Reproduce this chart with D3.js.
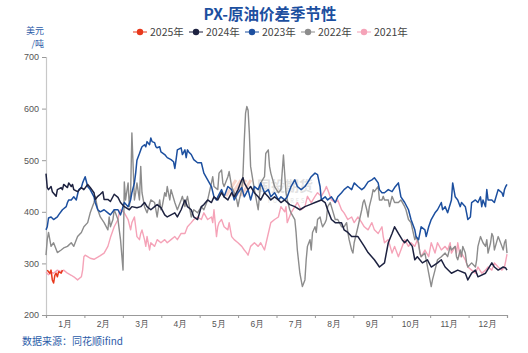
<!DOCTYPE html>
<html>
<head>
<meta charset="utf-8">
<script src="https://cdn.jsdelivr.net/npm/d3@7"></script>
<style>
  html, body { margin: 0; padding: 0; background: #fff; }
  svg { display: block; font-family: "Noto Sans CJK SC", "Noto Sans", sans-serif; }
</style>
</head>
<body>
<div id="chart"></div>
<script>
// month labels on the x axis
const months = ['1月', '2月', '3月', '4月', '5月', '6月', '7月', '8月', '9月', '10月', '11月', '12月'];
const yTicks = [200, 300, 400, 500, 600, 700];

// [day of year, USD/t]
const s2025 = [[1,287],[2,284],[3,281],[4,287],[5,268],[6,262],[7,277],[8,281],[9,274],[10,284],[12,281],[13,287]];

const s2024 = [[0,474],[1,447],[2,443],[4,449],[5,439],[8,430],[9,443],[12,447],[13,443],[14,453],[17,447],[18,456],[20,449],
  [21,453],[22,443],[25,439],[28,447],[30,443],[33,453],[35,447],[38,437],[39,424],[41,430],[43,434],[45,439],[46,424],
  [49,424],[51,420],[54,434],[57,428],[59,418],[62,410],[66,404],[68,410],[72,408],[75,410],[78,418],[80,410],[83,404],
  [86,410],[88,414],[91,408],[94,394],[96,390],[99,394],[102,398],[104,390],[107,404],[110,423],[112,410],[115,404],
  [117,390],[120,385],[123,410],[125,414],[128,423],[131,418],[133,429],[136,423],[139,437],[141,429],[144,423],[147,437],
  [149,429],[152,443],[155,462],[156,466],[157,456],[160,443],[162,449],[165,437],[168,429],[170,423],[173,437],[176,429],
  [178,423],[181,429],[184,423],[186,418],[189,423],[193,414],[197,410],[201,404],[205,410],[209,414],[213,418],[218,423],
  [221,418],[223,404],[226,385],[229,379],[234,379],[236,365],[239,360],[242,352],[247,352],[252,333],[255,321],[260,307],
  [264,293],[268,301],[271,340],[274,358],[276,371],[279,358],[282,346],[284,340],[286,346],[290,333],[292,307],[294,313],
  [298,301],[302,307],[305,293],[310,301],[313,307],[316,293],[321,281],[326,287],[332,281],[334,268],[337,281],[340,287],
  [342,274],[348,281],[353,301],[355,293],[358,287],[362,293],[364,291],[365,287]];

const s2023 = [[0,365],[1,371],[2,388],[4,390],[6,385],[9,390],[10,394],[13,404],[16,410],[17,418],[18,423],[20,423],[22,429],
  [24,423],[25,434],[26,443],[28,447],[29,456],[30,462],[31,468],[33,449],[35,443],[38,429],[39,418],[41,404],[43,400],
  [46,404],[49,398],[51,394],[54,404],[57,404],[59,394],[62,418],[65,410],[67,423],[68,437],[70,456],[71,475],[72,500],
  [74,513],[75,520],[76,526],[78,530],[79,526],[80,536],[82,530],[83,543],[84,536],[86,534],[87,526],[88,524],[90,526],
  [91,516],[94,511],[96,505],[99,501],[101,497],[102,484],[103,501],[104,520],[107,524],[108,511],[110,520],[111,505],
  [112,520],[113,516],[115,511],[117,501],[120,495],[123,495],[125,475],[128,462],[131,449],[133,429],[135,423],[136,429],
  [139,443],[141,429],[144,449],[147,443],[149,423],[152,437],[155,447],[157,429],[160,443],[162,423],[165,449],[168,443],
  [170,456],[173,437],[176,443],[178,429],[181,437],[184,423],[186,429],[189,423],[191,429],[194,449],[197,462],[199,449],
  [202,443],[205,449],[207,456],[210,468],[213,475],[215,472],[217,449],[218,423],[221,429],[223,423],[226,429],[229,418],
  [231,429],[234,437],[236,443],[239,449],[242,443],[244,456],[247,449],[250,443],[252,447],[255,458],[258,462],[260,466],
  [263,456],[264,443],[266,437],[268,437],[271,443],[274,439],[276,447],[279,456],[281,429],[284,418],[287,404],[289,385],
  [292,365],[293,352],[295,346],[296,358],[297,371],[300,365],[301,352],[303,371],[305,385],[308,398],[310,404],[313,418],
  [314,404],[316,410],[318,398],[321,423],[322,456],[324,429],[326,423],[328,410],[329,418],[332,410],[333,398],[334,385],
  [336,390],[337,418],[340,423],[342,418],[344,429],[345,410],[346,423],[348,410],[349,443],[350,423],[353,423],[355,418],
  [358,443],[361,437],[362,430],[363,443],[364,449],[365,453]];

const s2022 = [[0,316],[1,346],[2,360],[4,333],[6,340],[9,321],[12,326],[14,330],[17,333],[20,340],[22,333],[25,352],[28,360],
  [30,371],[33,379],[35,398],[38,418],[39,430],[41,404],[43,390],[46,379],[49,365],[50,390],[51,371],[53,385],[54,404],
  [57,385],[58,365],[59,346],[61,287],[62,458],[63,423],[65,456],[66,410],[67,437],[68,553],[69,488],[70,423],[71,437],
  [72,456],[74,423],[75,488],[76,437],[78,410],[80,398],[83,423],[86,418],[88,390],[90,423],[91,404],[92,410],[94,437],
  [95,430],[96,449],[98,423],[99,443],[102,418],[104,404],[107,423],[108,430],[110,410],[112,430],[115,390],[117,404],
  [120,398],[123,410],[125,404],[128,423],[131,456],[132,468],[133,449],[136,443],[137,475],[139,481],[140,456],[141,449],
  [144,468],[145,478],[147,449],[149,437],[151,423],[152,410],[153,423],[155,443],[156,475],[157,539],[158,591],[159,604],
  [160,597],[161,553],[162,488],[165,443],[168,404],[169,430],[170,456],[173,468],[174,513],[176,520],[177,488],[178,475],
  [181,449],[184,437],[186,443],[188,510],[190,437],[191,423],[193,404],[194,398],[197,385],[198,360],[199,326],[201,281],
  [202,268],[203,255],[205,268],[206,307],[207,333],[209,346],[210,326],[211,360],[213,371],[214,360],[215,385],[217,390],
  [218,379],[219,371],[221,379],[222,385],[223,410],[225,418],[226,410],[229,385],[231,385],[234,371],[236,371],[238,379],
  [239,360],[240,346],[242,326],[243,320],[244,340],[247,371],[250,404],[251,418],[252,423],[254,404],[255,390],[256,410],
  [258,430],[259,443],[260,439],[263,449],[264,423],[266,423],[267,430],[268,423],[271,423],[272,410],[274,430],[276,418],
  [279,418],[281,423],[284,410],[285,404],[287,385],[289,379],[292,346],[293,352],[295,340],[296,320],[297,313],[300,320],
  [303,281],[305,255],[306,268],[308,287],[310,307],[313,313],[316,320],[318,313],[320,333],[321,326],[324,333],[325,313],
  [326,307],[328,326],[329,313],[330,333],[332,320],[333,301],[334,293],[337,301],[340,293],[341,307],[342,333],[344,352],
  [345,346],[346,340],[348,333],[349,346],[350,320],[352,340],[353,358],[354,352],[355,326],[358,352],[359,346],[361,333],
  [362,326],[363,340],[364,346],[365,320]];

const s2021 = [[0,283],[2,278],[5,282],[6,281],[9,287],[12,284],[14,287],[17,281],[20,277],[22,274],[25,268],[28,274],[29,287],
  [30,313],[31,316],[33,313],[35,310],[38,308],[41,312],[43,315],[46,320],[49,333],[51,350],[54,371],[57,385],[58,398],
  [59,404],[62,398],[65,385],[67,365],[68,379],[70,390],[71,371],[72,352],[74,346],[75,358],[76,365],[78,346],[79,333],
  [80,352],[82,326],[83,340],[86,333],[88,346],[91,340],[94,346],[96,340],[99,346],[102,352],[104,346],[107,358],[110,358],
  [112,371],[115,379],[117,385],[120,390],[123,385],[125,398],[128,385],[131,390],[132,379],[133,404],[135,352],[136,371],
  [137,379],[139,385],[141,371],[144,365],[145,379],[147,352],[149,346],[152,340],[155,333],[157,326],[159,320],[160,316],
  [162,333],[165,340],[168,333],[170,340],[173,326],[176,358],[178,379],[181,385],[184,390],[186,410],[189,400],[190,410],
  [191,379],[194,398],[197,410],[199,418],[202,404],[205,410],[207,430],[210,418],[213,430],[215,437],[218,430],[221,443],
  [222,449],[223,443],[226,423],[229,418],[231,423],[234,404],[236,398],[239,385],[242,390],[244,379],[247,390],[250,379],
  [252,371],[255,365],[258,379],[260,365],[263,358],[266,371],[267,352],[268,340],[271,346],[274,320],[276,333],[279,313],
  [281,326],[284,346],[287,333],[289,340],[292,333],[294,346],[297,313],[300,326],[303,313],[305,340],[308,320],[310,340],
  [313,326],[316,333],[318,326],[320,340],[321,320],[324,333],[325,320],[326,340],[328,313],[329,320],[332,307],[334,293],
  [337,287],[340,281],[342,293],[345,281],[348,287],[350,293],[353,287],[355,301],[358,293],[361,287],[363,293],[364,305],
  [365,318]];

const seriesNames = ['2025年', '2024年', '2023年', '2022年', '2021年'];
const seriesData = [s2025, s2024, s2023, s2022, s2021];
const colors = ['#e8381c', '#1d2240', '#1c4f9f', '#8c8c8c', '#f5a3b8'];

const W = 528, H = 353;
const svg = d3.select('#chart').append('svg').attr('width', W).attr('height', H);

const x = d3.scaleLinear().domain([0, 365]).range([46, 507]);
const y = d3.scaleLinear().domain([200, 700]).range([315, 57]);
const band = d3.scaleBand().domain(months).range([46, 507]);

// title
svg.append('text').attr('x', 270).attr('y', 20).attr('text-anchor', 'middle')
  .attr('font-size', 15.5).attr('font-weight', 'bold').attr('fill', '#1c4f9f')
  .text('PX-原油价差季节性');

// legend
const legend = svg.append('g');
seriesNames.forEach((name, i) => {
  const cx = 140 + i * 56;
  legend.append('line').attr('x1', cx - 7).attr('x2', cx + 7).attr('y1', 32).attr('y2', 32)
    .attr('stroke', colors[i]).attr('stroke-width', 2).attr('opacity', 0.5);
  legend.append('circle').attr('cx', cx).attr('cy', 32).attr('r', 3.2).attr('fill', colors[i]);
  legend.append('text').attr('x', cx + 10).attr('y', 36).attr('font-size', 10.5).attr('fill', '#444')
    .text(name);
});

// unit
svg.append('text').attr('x', 44).attr('y', 34).attr('text-anchor', 'end').attr('font-size', 9)
  .attr('fill', '#2b5ba8').text('美元');
svg.append('text').attr('x', 44).attr('y', 47).attr('text-anchor', 'end').attr('font-size', 9)
  .attr('fill', '#2b5ba8').text('/吨');

// y axis
svg.append('g').attr('transform', 'translate(46,0)')
  .call(d3.axisLeft(y).tickValues(yTicks).tickSize(4).tickPadding(3))
  .call(g => g.select('.domain').attr('stroke', '#c8c8c8').attr('stroke-width', 1.2))
  .call(g => g.selectAll('line').attr('stroke', '#999'))
  .call(g => g.selectAll('text').attr('fill', '#555').attr('font-size', 9)
    .attr('font-family', 'Liberation Sans, Arial, sans-serif'));

// x axis: boundaries ticks + centred month labels
svg.append('g').attr('transform', 'translate(0,315)')
  .call(d3.axisBottom(x).tickValues(d3.range(13).map(i => i * 365 / 12)).tickSize(3).tickFormat(''))
  .call(g => g.select('.domain').attr('stroke', '#999').attr('stroke-width', 1.2))
  .call(g => g.selectAll('line').attr('stroke', '#999'));
svg.append('g').attr('transform', 'translate(0,315)')
  .call(d3.axisBottom(band).tickSize(0).tickPadding(6))
  .call(g => g.select('.domain').remove())
  .call(g => g.selectAll('text').attr('fill', '#555').attr('font-size', 8.5));

// watermark
const wm = svg.append('g').attr('opacity', 0.35);
[0, 1, 2, 3].forEach(i => {
  wm.append('line').attr('x1', 226 + i * 5).attr('y1', 196).attr('x2', 236 + i * 5).attr('y2', 180)
    .attr('stroke', '#f08a6a').attr('stroke-width', 3);
});
wm.append('text').attr('x', 257).attr('y', 191).attr('font-size', 14).attr('font-weight', 'bold')
  .attr('fill', '#aaa').text('国投期货');
wm.append('text').attr('x', 268).attr('y', 203).attr('font-size', 5.5).attr('fill', '#aaa')
  .attr('letter-spacing', 2).text('FUTURES');

// lines: oldest year drawn first
const line = d3.line().x(d => x(d[0])).y(d => y(d[1]));
for (let i = seriesData.length - 1; i >= 0; i--) {
  svg.append('path').datum(seriesData[i]).attr('fill', 'none')
    .attr('stroke', colors[i]).attr('stroke-width', i === 3 || i === 4 ? 1.4 : 1.5)
    .attr('stroke-linejoin', 'round').attr('d', line);
}

// source
svg.append('text').attr('x', 22).attr('y', 345).attr('font-size', 10).attr('fill', '#2b5ba8')
  .text('数据来源：同花顺ifind');
</script>
</body>
</html>
